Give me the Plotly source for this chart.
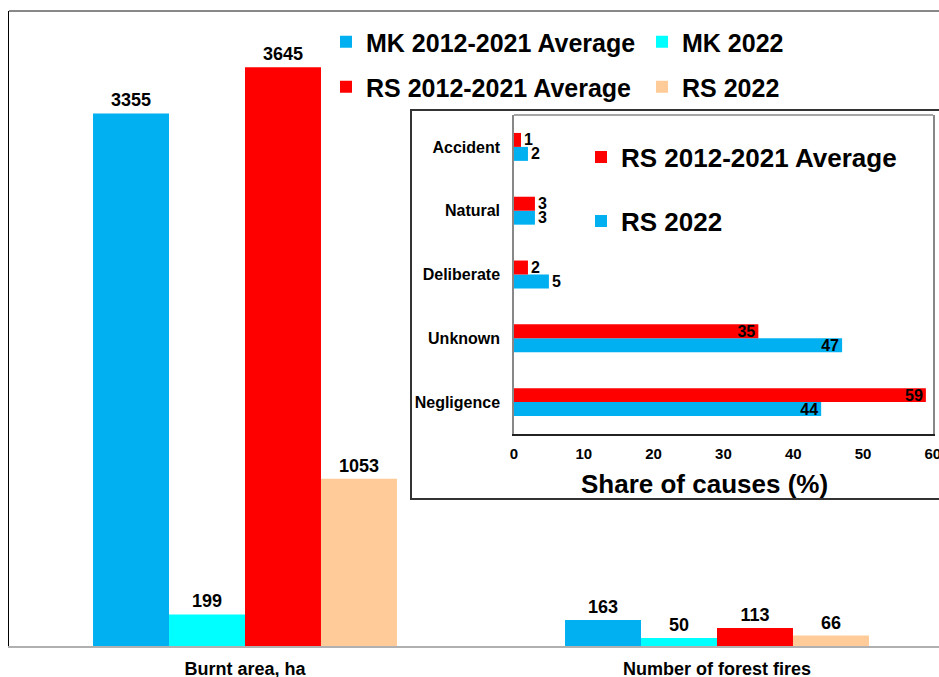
import plotly.graph_objects as go

# Main chart: burnt area and number of fires
groups = ["Burnt area, ha", "Number of forest fires"]
mk_avg = [3355, 163]
mk_2022 = [199, 50]
rs_avg = [3645, 113]
rs_2022 = [1053, 66]

# Inset: share of fire causes in RS (%)
causes = ["Accident", "Natural", "Deliberate", "Unknown", "Negligence"]
cause_rs_avg = [1, 3, 2, 35, 59]
cause_rs_2022 = [2, 3, 5, 47, 44]
share_ticks = [0, 10, 20, 30, 40, 50, 60]

BLUE = "#00B0F0"
CYAN = "#00FFFF"
RED = "#FF0000"
PEACH = "#FFCC99"
FONT = "Liberation Sans, Arial, sans-serif"

W, H = 939, 677
ML, MR, MT, MB = 9, 0, 11, 31
PW, PH = W - ML - MR, H - MT - MB


def px_x(px):
    return (px - ML) / PW


def px_y(py):
    return (H - MB - py) / PH


fig = go.Figure()

pos = list(range(len(groups)))
bw = 0.161
main_series = [
    ("MK 2012-2021 Average", mk_avg, BLUE, "legend"),
    ("MK 2022", mk_2022, CYAN, "legend"),
    ("RS 2012-2021 Average", rs_avg, RED, "legend2"),
    ("RS 2022", rs_2022, PEACH, "legend2"),
]
for i, (name, vals, col, leg) in enumerate(main_series):
    fig.add_trace(go.Bar(
        name=name, x=pos, y=vals, width=bw, offset=(i - 2) * bw,
        marker=dict(color=col, line=dict(width=0)),
        text=[str(v) for v in vals], textposition="outside",
        textfont=dict(size=18, color="black", family=FONT, weight="bold"),
        cliponaxis=False, legend=leg, xaxis="x", yaxis="y",
    ))

hw = 0.219
inset_series = [
    ("RS 2022", cause_rs_2022, BLUE, "legend4", -hw),
    ("RS 2012-2021 Average", cause_rs_avg, RED, "legend3", 0.0),
]
label_font = dict(size=16, color="black", family=FONT, weight="bold")
for name, vals, col, leg, off in inset_series:
    fig.add_trace(go.Bar(
        name=name, y=causes, x=vals, orientation="h", width=hw, offset=off,
        marker=dict(color=col, line=dict(width=0)),
        text=[str(v) for v in vals],
        textposition=["inside" if v > 10 else "outside" for v in vals],
        insidetextanchor="end", constraintext="none", textangle=0,
        textfont=label_font, insidetextfont=label_font,
        outsidetextfont=label_font,
        cliponaxis=False, legend=leg, xaxis="x2", yaxis="y2",
    ))

legend_common = dict(orientation="h", xanchor="left", yanchor="middle",
                     bgcolor="rgba(0,0,0,0)", borderwidth=0)
row_common = dict(entrywidth=271, entrywidthmode="pixels",
                  font=dict(size=25), **legend_common)

fig.update_layout(
    width=W, height=H,
    margin=dict(l=ML, r=MR, t=MT, b=MB, pad=0, autoexpand=False),
    paper_bgcolor="white", plot_bgcolor="rgba(0,0,0,0)",
    font=dict(family=FONT, color="black", weight="bold"),
    showlegend=True,
    xaxis=dict(domain=[0, 1], range=[-0.5, -0.5 + PW / 472], tickvals=pos,
               ticktext=groups, tickfont=dict(size=18), showline=True,
               linecolor="#b0b0b0", linewidth=2, ticks="",
               ticklabelstandoff=5, automargin=False, showgrid=False,
               zeroline=False),
    yaxis=dict(domain=[0, 1], range=[0, 4000], showticklabels=False,
               showgrid=False, zeroline=False, showline=True,
               linecolor="black", linewidth=1, ticks="", automargin=False),
    xaxis2=dict(domain=[px_x(514), px_x(933)], anchor="y2",
                range=[0, 60.02], tickvals=share_ticks,
                tickfont=dict(size=15), showline=True, linecolor="#222222",
                linewidth=1.5, ticks="", ticklabelstandoff=5,
                ticklabeloverflow="allow", automargin=False,
                showgrid=False, zeroline=False),
    yaxis2=dict(domain=[px_y(434), px_y(115)], anchor="x2",
                categoryorder="array", categoryarray=causes[::-1],
                tickfont=dict(size=16), ticks="", ticklabelstandoff=9,
                showline=True, linecolor="#888888", linewidth=1.5, mirror=True,
                automargin=False, showgrid=False, zeroline=False),
    legend=dict(x=px_x(326), y=px_y(42), **row_common),
    legend2=dict(x=px_x(326), y=px_y(87), **row_common),
    legend3=dict(x=px_x(581), y=px_y(157), font=dict(size=26), **legend_common),
    legend4=dict(x=px_x(581), y=px_y(221), font=dict(size=26), **legend_common),
    annotations=[dict(text="Share of causes (%)", xref="paper", yref="paper",
                      x=px_x(704), y=px_y(484), xanchor="center",
                      yanchor="middle", showarrow=False,
                      font=dict(size=26))],
    shapes=[
        # inset frame
        dict(type="rect", xref="paper", yref="paper", x0=px_x(411),
             x1=px_x(1000), y0=px_y(499), y1=px_y(110),
             line=dict(color="#333333", width=2), fillcolor="white",
             layer="below"),
        # inset plot top edge
        dict(type="line", xref="x2 domain", yref="y2 domain", x0=0, x1=1,
             y0=1, y1=1, line=dict(color="#888888", width=1.5)),
        # outer frame top edge
        dict(type="line", xref="paper", yref="paper", x0=0, x1=1,
             y0=1, y1=1, line=dict(color="#888888", width=2)),
    ],
)

fig.write_html("out.html")
